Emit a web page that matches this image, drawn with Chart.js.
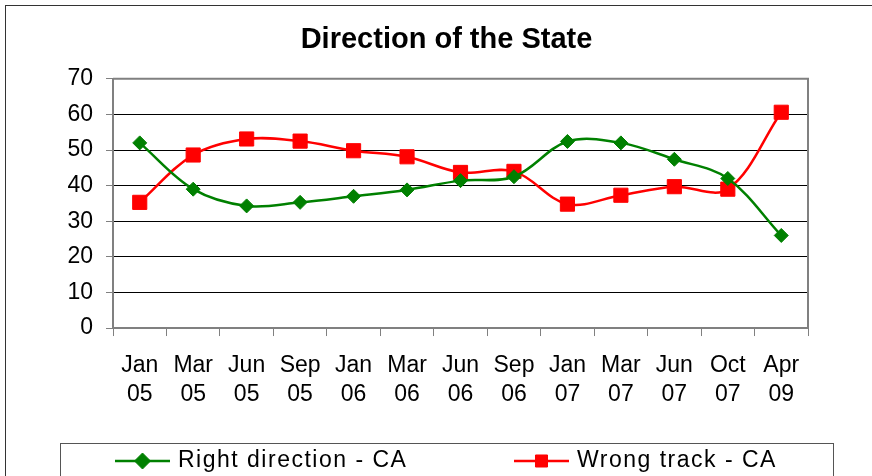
<!DOCTYPE html>
<html>
<head>
<meta charset="utf-8">
<script src="https://cdn.jsdelivr.net/npm/chart.js@4.4.1/dist/chart.umd.min.js"></script>
<style>
  html, body { margin: 0; padding: 0; background: #fff; }
  #wrap { width: 872px; height: 476px; }
</style>
</head>
<body>
<div id="wrap"><canvas id="stateChart" width="872" height="476"></canvas></div>
<script>
// survey dates (two-line labels: month / year)
const months = [
    ['Jan', '05'], ['Mar', '05'], ['Jun', '05'], ['Sep', '05'],
    ['Jan', '06'], ['Mar', '06'], ['Jun', '06'], ['Sep', '06'],
    ['Jan', '07'], ['Mar', '07'], ['Jun', '07'], ['Oct', '07'],
    ['Apr', '09']
];
const rightDirection = [52, 39, 34.3, 35.3, 37, 38.8, 41.4, 42.5, 52.4, 52, 47.4, 42, 26];
const wrongTrack = [35.3, 48.6, 53.1, 52.5, 49.8, 48.1, 43.7, 44, 34.8, 37.3, 39.7, 39, 60.6];
const yTicks = [0, 10, 20, 30, 40, 50, 60, 70];

Chart.defaults.font.family = '"Liberation Sans", Arial, sans-serif';
Chart.defaults.color = '#000';

// borders, frame and the boxed legend (Excel style)
const framePlugin = {
    id: 'frame',
    afterDraw(chart) {
        const ctx = chart.ctx;
        const area = chart.chartArea;
        ctx.save();
        ctx.strokeStyle = '#808080';
        ctx.lineWidth = 2;
        ctx.beginPath();
        ctx.moveTo(area.left, area.top);
        ctx.lineTo(area.right, area.top);
        ctx.lineTo(area.right, area.bottom);
        ctx.stroke();

        ctx.strokeStyle = '#333';
        ctx.lineWidth = 1;
        ctx.strokeRect(5.5, 5.5, chart.width + 20, chart.height + 20);

        ctx.strokeStyle = '#555';
        ctx.strokeRect(60.5, 443.5, 773, 60);

        const starts = [115, 514];
        const legendRadius = [8, 8.5];
        const y = 461;
        chart.data.datasets.forEach((ds, i) => {
            const x = starts[i];
            ctx.strokeStyle = ds.borderColor;
            ctx.lineWidth = 2.5;
            ctx.beginPath();
            ctx.moveTo(x, y);
            ctx.lineTo(x + 55, y);
            ctx.stroke();
            ctx.fillStyle = ds.pointBackgroundColor;
            ctx.strokeStyle = ds.pointBorderColor;
            ctx.lineWidth = 1;
            Chart.helpers.drawPoint(ctx, {
                pointStyle: ds.pointStyle,
                radius: legendRadius[i],
                borderWidth: 1,
                rotation: 0
            }, x + 27.5, y);
            ctx.fillStyle = '#000';
            ctx.font = '23px "Liberation Sans", Arial, sans-serif';
            ctx.letterSpacing = '1.5px';
            ctx.textBaseline = 'middle';
            ctx.textAlign = 'left';
            ctx.fillText(ds.label, x + 63, y);
        });
        ctx.restore();
    }
};

const ctxS = document.getElementById('stateChart').getContext('2d');
const stateChart = new Chart(ctxS, {
    type: 'line',
    data: {
        labels: months,
        datasets: [
            {
                label: 'Right direction - CA',
                data: rightDirection,
                borderColor: '#008000',
                backgroundColor: '#008000',
                pointBackgroundColor: '#008000',
                pointBorderColor: '#008000',
                pointStyle: 'rectRot',
                pointRadius: 7,
                pointBorderWidth: 1,
                borderWidth: 2.5,
                tension: 0.35,
                fill: false
            },
            {
                label: 'Wrong track - CA',
                data: wrongTrack,
                borderColor: '#ff0000',
                backgroundColor: '#ff0000',
                pointBackgroundColor: '#ff0000',
                pointBorderColor: '#ff0000',
                pointStyle: 'rect',
                pointRadius: 10,
                pointBorderWidth: 1,
                borderWidth: 2.5,
                tension: 0.35,
                fill: false
            }
        ]
    },
    options: {
        responsive: false,
        animation: false,
        layout: { padding: { left: 67, right: 46, top: 5, bottom: 52 } },
        plugins: {
            legend: { display: false },
            tooltip: { enabled: false },
            title: {
                display: true,
                text: 'Direction of the State',
                color: '#000',
                font: { size: 29, weight: 'bold' },
                padding: { top: 18, bottom: 21 }
            }
        },
        scales: {
            x: {
                offset: true,
                ticks: {
                    color: '#000',
                    font: { size: 23, lineHeight: 1.26 },
                    padding: 15,
                    maxRotation: 0,
                    autoSkip: false
                },
                grid: { offset: true, drawOnChartArea: false, tickLength: 8, color: '#808080' },
                border: { color: '#808080', width: 2 }
            },
            y: {
                min: yTicks[0],
                max: yTicks[yTicks.length - 1],
                ticks: { stepSize: 10, padding: 13, color: '#000', font: { size: 23 } },
                grid: { color: '#000', lineWidth: 1, tickLength: 7, tickColor: '#808080' },
                border: { color: '#808080', width: 2 },
                afterFit(scale) { scale.width = 46; }
            },
            // empty spacer on the right so the title sits where Excel put it
            yRight: {
                position: 'right',
                display: true,
                ticks: { display: false },
                grid: { display: false },
                border: { display: false },
                afterFit(scale) { scale.width = 18; }
            }
        }
    },
    plugins: [framePlugin]
});
</script>
</body>
</html>
